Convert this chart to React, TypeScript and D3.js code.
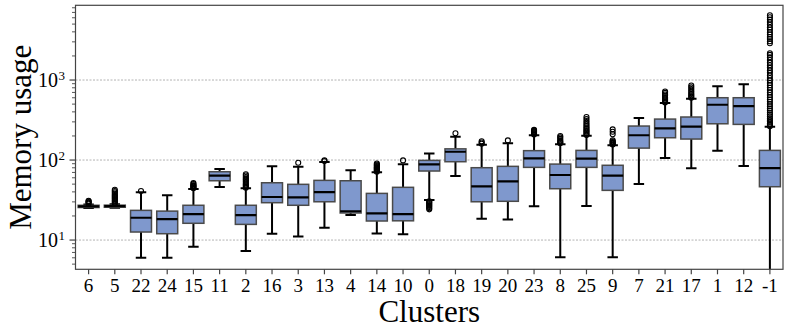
import React, { useEffect, useRef } from 'react';
import * as d3 from 'd3';

// clusters in plotted order
const clusters = ['6', '5', '22', '24', '15', '11', '2', '16', '3', '13', '4', '14', '10', '0', '18',
  '19', '20', '23', '8', '25', '9', '7', '21', '17', '1', '12', '-1'];

const whiskerLow = [25.1, 25.3, 6.0, 6.0, 8.25, 46, 7.3, 12, 11.1, 14.3, 20.5, 12.1, 11.8, 31.6, 63.1,
  18.5, 18.1, 26.4, 6.1, 26.6, 6.1, 50.1, 106, 78.7, 131, 84.1, 1];
const q1 = [25.5, 25.7, 12.6, 12.0, 16.2, 55.1, 15.7, 29.3, 27.2, 30.1, 21.8, 17.3, 17.4, 72.9, 95.3,
  30.1, 30.5, 81, 43.8, 81, 41.8, 141, 190, 183, 284, 279, 46.4];
const medians = [26.4, 26.5, 19.0, 18.3, 21.1, 63.7, 20.5, 34.5, 34.2, 39.8, 22.9, 21.6, 21.1, 88.3, 127,
  46.9, 54.2, 105, 65, 104, 63.7, 204, 249, 261, 491, 473, 79.4];
const q3 = [27.2, 27.3, 23.5, 23.0, 27.2, 71.4, 27.2, 52, 49.7, 55.7, 55.1, 38.3, 45.6, 99, 138,
  80.2, 83.4, 131, 89, 132, 86, 266, 325, 345, 601, 601, 132];
const whiskerHigh = [27.8, 28.0, 39.5, 36.2, 43.4, 77.2, 44.3, 83.4, 82.4, 94.4, 74.3, 70.2, 88.3, 121, 195,
  155, 162, 204, 158, 201, 153, 335, 516, 584, 834, 883, 261];

const outliers: number[][] = [
  [28.5, 29.2, 29.8, 30.5, 31],
  [28.5, 29.5, 30.5, 31.5, 32.5, 33.5, 34.5, 35.5, 36.5, 38, 39.5, 41, 42.5],
  [41],
  [],
  [44.5, 45.5, 46.5, 47.5, 48.5, 50, 51.5],
  [],
  [45, 46.5, 48, 49.5, 51, 53, 55, 57, 59, 61.5, 64, 66.5],
  [],
  [92.5],
  [97, 99.5],
  [],
  [71.5, 73, 74.5, 76, 77.5, 79, 80.5, 82, 84, 86, 88, 90.5],
  [99],
  [24.2, 25, 25.8, 26.6, 27.4, 28.2, 29, 29.8, 30.6],
  [216],
  [160, 166, 172],
  [176],
  [208, 213, 218, 223, 228, 233, 238],
  [162, 166, 170, 176, 184, 192, 200],
  [205, 212, 220, 228, 236, 245, 255, 266, 278, 292, 308, 325, 345],
  [156, 160, 164, 168, 172, 177, 210, 226, 242],
  [],
  [525, 540, 555, 570, 590, 610, 635, 660, 690, 720],
  [600, 620, 645, 670, 700, 735, 770, 810, 855],
  [],
  [],
  [265, 275, 285, 300, 315, 330, 350, 370, 390, 415, 440, 470, 500, 535, 570, 610, 650, 700, 750, 800,
    860, 920, 990, 1060, 1140, 1230, 1320, 1420, 1530, 1650, 1780, 1920, 2060, 2160,
    2880, 3050, 3250, 3450, 3700, 3950, 4250, 4550, 4900, 5300, 5700, 6100, 6450],
];

const yMajor = [10, 100, 1000];
const yMajorExp = ['1', '2', '3'];

const W = 789, H = 335;
const left = 75.5, right = 783, top = 5.3, bottom = 269.3;
const serif = '"Liberation Serif", "Times New Roman", serif';
const boxFill = '#7f98cd';

const draw = (el: SVGSVGElement) => {
  const svg = d3.select(el);
  svg.selectAll('*').remove();

  const x = d3.scaleBand().domain(clusters).range([left, right]).padding(0);
  const y = d3.scaleLog().domain([4.31, 8590]).range([bottom, top]);

  svg.append('defs').append('clipPath').attr('id', 'plotclip')
    .append('rect').attr('x', left).attr('y', top).attr('width', right - left).attr('height', bottom - top);

  // grid
  svg.append('g').selectAll('line').data(yMajor).enter().append('line')
    .attr('x1', left).attr('x2', right)
    .attr('y1', d => y(d)).attr('y2', d => y(d))
    .attr('stroke', '#a0a0a0').attr('stroke-width', 0.8).attr('stroke-dasharray', '2,1.5');

  const bw = x.bandwidth() * 0.8;
  const cw = bw * 0.5;
  const g = svg.append('g').attr('clip-path', 'url(#plotclip)');

  clusters.forEach((c, i) => {
    const cx = (x(c) as number) + x.bandwidth() / 2;
    const lo = Math.max(whiskerLow[i], 1e-3);
    // whiskers
    g.append('line').attr('x1', cx).attr('x2', cx).attr('y1', y(lo)).attr('y2', y(q1[i]))
      .attr('stroke', '#000').attr('stroke-width', 2);
    g.append('line').attr('x1', cx).attr('x2', cx).attr('y1', y(q3[i])).attr('y2', y(whiskerHigh[i]))
      .attr('stroke', '#000').attr('stroke-width', 2);
    g.append('line').attr('x1', cx - cw / 2).attr('x2', cx + cw / 2).attr('y1', y(lo)).attr('y2', y(lo))
      .attr('stroke', '#000').attr('stroke-width', 2);
    g.append('line').attr('x1', cx - cw / 2).attr('x2', cx + cw / 2)
      .attr('y1', y(whiskerHigh[i])).attr('y2', y(whiskerHigh[i]))
      .attr('stroke', '#000').attr('stroke-width', 2);
    // box
    g.append('rect').attr('x', cx - bw / 2).attr('width', bw)
      .attr('y', y(q3[i])).attr('height', Math.max(y(q1[i]) - y(q3[i]), 0.5))
      .attr('fill', boxFill).attr('stroke', '#4a4a4a').attr('stroke-width', 1.5);
    g.append('line').attr('x1', cx - bw / 2).attr('x2', cx + bw / 2)
      .attr('y1', y(medians[i])).attr('y2', y(medians[i]))
      .attr('stroke', '#000').attr('stroke-width', 2.2);
    // fliers
    g.selectAll(null).data(outliers[i]).enter().append('circle')
      .attr('cx', cx).attr('cy', d => y(d)).attr('r', 2.5)
      .attr('fill', 'none').attr('stroke', '#000').attr('stroke-width', 1.1);
  });

  // frame
  svg.append('rect').attr('x', left).attr('y', top).attr('width', right - left).attr('height', bottom - top)
    .attr('fill', 'none').attr('stroke', '#444').attr('stroke-width', 1.2);

  // y ticks (log minor + major)
  const yt = svg.append('g');
  y.ticks().forEach(t => {
    const major = Math.abs(Math.log10(t) - Math.round(Math.log10(t))) < 1e-9;
    yt.append('line').attr('x1', left).attr('x2', left - (major ? 6 : 3.5))
      .attr('y1', y(t)).attr('y2', y(t)).attr('stroke', '#444').attr('stroke-width', major ? 1.2 : 0.9);
  });
  yMajor.forEach((t, i) => {
    yt.append('text').attr('x', 58).attr('y', y(t) + 7).attr('text-anchor', 'end')
      .style('font-family', serif).style('font-size', '20px').text('10');
    yt.append('text').attr('x', 58.5).attr('y', y(t) - 0.5).attr('text-anchor', 'start')
      .style('font-family', serif).style('font-size', '13px').text(yMajorExp[i]);
  });

  // x axis
  const xa = svg.append('g').attr('transform', `translate(0,${bottom})`)
    .call(d3.axisBottom(x).tickSize(5).tickPadding(4));
  xa.select('.domain').remove();
  xa.selectAll('line').attr('stroke', '#444').attr('stroke-width', 1.2);
  xa.selectAll('text').style('font-family', serif).style('font-size', '19px').attr('fill', '#000');

  svg.append('text').attr('x', (left + right) / 2).attr('y', 322).attr('text-anchor', 'middle')
    .style('font-family', serif).style('font-size', '31px').text('Clusters');

  svg.append('text').attr('transform', `translate(31,${(top + bottom) / 2}) rotate(-90)`)
    .attr('text-anchor', 'middle')
    .style('font-family', serif).style('font-size', '31px').text('Memory usage');
};

const App = () => {
  const ref = useRef<SVGSVGElement>(null);
  useEffect(() => {
    if (ref.current) draw(ref.current);
  }, []);
  return (
    <svg ref={ref} width={W} height={H}
      style={{ position: 'absolute', left: 0, top: 0, background: '#fff' }} />
  );
};

export default App;
